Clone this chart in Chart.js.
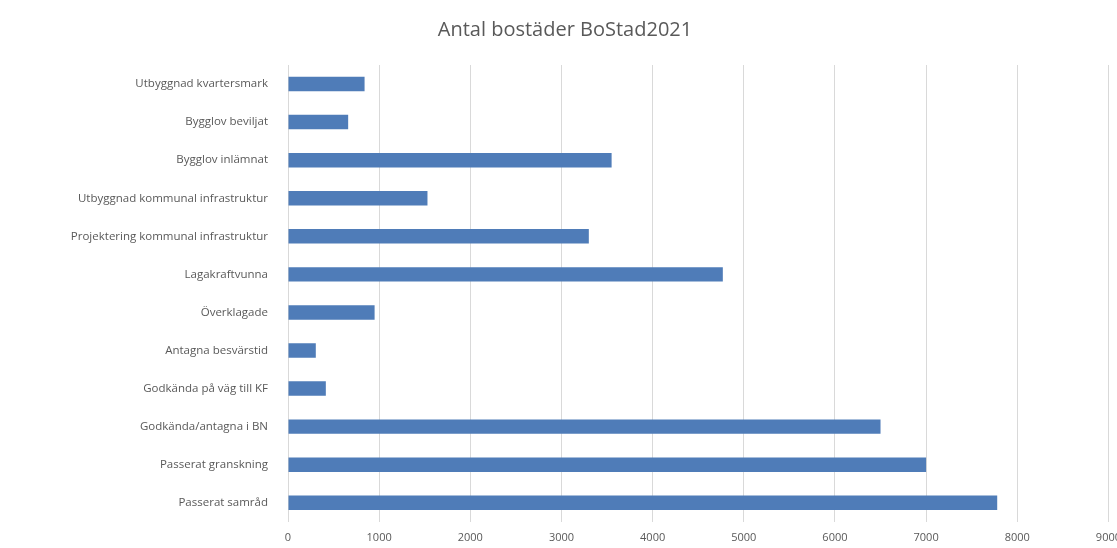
<!DOCTYPE html>
<html lang="sv">
<head>
<meta charset="utf-8">
<title>Antal bostäder BoStad2021</title>
<script src="https://cdn.jsdelivr.net/npm/chart.js@4/dist/chart.umd.min.js"></script>
<style>
    html, body { margin: 0; padding: 0; background: #fff; overflow: hidden; }
    #wrap { position: relative; width: 1130px; height: 548px; }
</style>
</head>
<body>
<div id="wrap"><canvas id="chart"></canvas></div>
<script>
const categories = [
    'Utbyggnad kvartersmark',
    'Bygglov beviljat',
    'Bygglov inlämnat',
    'Utbyggnad kommunal infrastruktur',
    'Projektering kommunal infrastruktur',
    'Lagakraftvunna',
    'Överklagade',
    'Antagna besvärstid',
    'Godkända på väg till KF',
    'Godkända/antagna i BN',
    'Passerat granskning',
    'Passerat samråd',
];
const bostader = [840, 660, 3550, 1530, 3300, 4770, 950, 305, 415, 6500, 7000, 7780];
const xTicks = [0, 1000, 2000, 3000, 4000, 5000, 6000, 7000, 8000, 9000];

const textColor = '#595959';
const fontFamily = '"Open Sans", "Noto Sans", sans-serif';

const data = {
    labels: categories,
    datasets: [
        {
            label: 'Antal bostäder',
            data: bostader,
            backgroundColor: '#4f7cb8',
            borderWidth: 0,
            categoryPercentage: 1,
            barPercentage: 0.38,
        },
    ],
};

const config = {
    type: 'bar',
    data: data,
    options: {
        indexAxis: 'y',
        responsive: true,
        maintainAspectRatio: false,
        animation: false,
        layout: { padding: { left: 0, right: 0, top: 0, bottom: -5 } },
        plugins: {
            legend: { display: false },
            tooltip: { enabled: false },
            title: {
                display: true,
                text: 'Antal bostäder BoStad2021',
                color: textColor,
                font: { family: fontFamily, size: 20, weight: 'normal' },
                padding: { top: 18, bottom: 23 },
            },
        },
        scales: {
            x: {
                min: 0,
                max: 9000,
                afterBuildTicks: (scale) => {
                    scale.ticks = xTicks.map((v) => ({ value: v }));
                },
                grid: { color: '#d9d9d9', drawTicks: false },
                border: { display: false },
                ticks: {
                    color: textColor,
                    font: { family: fontFamily, size: 11 },
                    padding: 9,
                    maxRotation: 0,
                    callback: (value) => String(value),
                },
            },
            y: {
                grid: { display: false },
                border: { display: false },
                afterFit: (scale) => {
                    scale.width = 288;
                },
                ticks: {
                    color: textColor,
                    font: { family: fontFamily, size: 11.5 },
                    padding: 12,
                },
            },
        },
    },
};

new Chart(document.querySelector('#chart'), config);
</script>
</body>
</html>
